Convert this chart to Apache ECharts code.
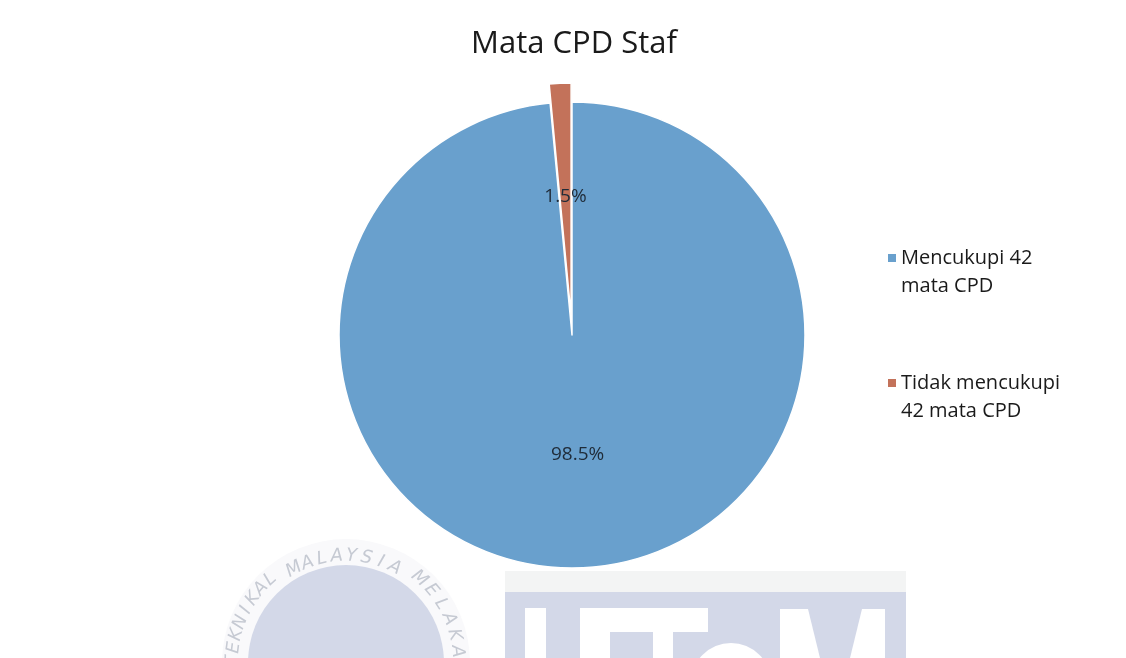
<!DOCTYPE html>
<html>
<head>
<meta charset="utf-8">
<script src="https://cdn.jsdelivr.net/npm/echarts@6/dist/echarts.min.js"></script>
<style>
html,body{margin:0;padding:0;background:#fff;}
#chart{width:1126px;height:658px;}
</style>
</head>
<body>
<div id="chart"></div>
<script>
const titleText = 'Mata CPD Staf';
const categories = ['Mencukupi 42\nmata CPD', 'Tidak mencukupi\n42 mata CPD'];
const values = [98.5, 1.5];
const colors = ['#69a0cd', '#c3725a'];

// watermark (scan background) text
const sealTop = ['M','A','L','A','Y','S','I','A'];
const sealRight = ['M','E','L','A','K','A'];
const sealLeft = ['T','E','K','N','I','K','A','L'];

const chart = echarts.init(document.getElementById('chart'));

const wm = [];
const cx = 346, cy = 663;
wm.push({type:'circle', shape:{cx:cx, cy:cy, r:124}, style:{fill:'#f9f9fb'}, z:-10, silent:true});
wm.push({type:'circle', shape:{cx:cx, cy:cy, r:98}, style:{fill:'#d3d8e8'}, z:-9, silent:true});
function ring(letters, a0, step, r){
  letters.forEach((ch,i)=>{
    const a = (a0 + i*step) * Math.PI/180;
    const x = cx + r*Math.sin(a), y = cy - r*Math.cos(a);
    wm.push({type:'text', x:x, y:y, rotation:-a, z:-8, silent:true,
      style:{text:ch, fill:'#c6cad3', font:'italic 18px "DejaVu Sans"', align:'center', verticalAlign:'middle'}});
  });
}
ring(sealTop, -29, 8, 107);
ring(sealRight, 41, 8.6, 112);
ring(sealLeft, -89, 6.7, 113);
// UTeM block
wm.push({type:'rect', shape:{x:505, y:571, width:401, height:22}, style:{fill:'#f3f4f4'}, z:-10, silent:true});
wm.push({type:'rect', shape:{x:505, y:592, width:401, height:66}, style:{fill:'#d3d8e8'}, z:-10, silent:true});
const white = '#ffffff';
[[525,608,21,50],[580,608,30,50],[610,608,98,24],[653,632,20,26],[780,609,105,49]].forEach(r=>{
  wm.push({type:'rect', shape:{x:r[0], y:r[1], width:r[2], height:r[3]}, style:{fill:white}, z:-8, silent:true});
});
wm.push({type:'polygon', shape:{points:[[808,609],[862,609],[850,658],[820,658]]}, style:{fill:'#d3d8e8'}, z:-7, silent:true});
wm.push({type:'circle', shape:{cx:731, cy:683, r:40}, style:{fill:white}, z:-8, silent:true});

chart.setOption({
  animation: false,
  backgroundColor: '#ffffff',
  title: {
    text: titleText,
    left: 569, top: 24, textAlign: 'center',
    textStyle: {fontFamily: '"Open Sans"', fontSize: 31, fontWeight: 'normal', color: '#1a1a1a'}
  },
  legend: {
    orient: 'vertical',
    left: 883, top: 239,
    itemWidth: 8, itemHeight: 36, itemGap: 69,
    icon: 'path://M0,0h8v8h-8Z M0,36L8,36',
    symbolKeepAspect: false,
    itemStyle: {borderWidth: 0},
    selectedMode: false,
    data: categories,
    textStyle: {fontFamily: '"Open Sans"', fontSize: 20, color: '#1a1a1a', lineHeight: 28}
  },
  graphic: wm,
  series: [{
    type: 'pie',
    center: [572, 335],
    radius: 233,
    startAngle: 90,
    clockwise: true,
    selectedMode: 'single',
    selectedOffset: 19,
    avoidLabelOverlap: false,
    itemStyle: {borderColor: '#ffffff', borderWidth: 1.5},
    label: {
      show: true, position: 'inside',
      formatter: p => p.value.toFixed(1) + '%',
      fontFamily: '"Open Sans"', fontSize: 19, color: '#1f2b38'
    },
    labelLine: {show: false},
    emphasis: {disabled: true},
    data: categories.map((c,i)=>({name:c, value:values[i], selected: i===1, itemStyle:{color:colors[i]}}))
  }]
});
</script>
</body>
</html>
